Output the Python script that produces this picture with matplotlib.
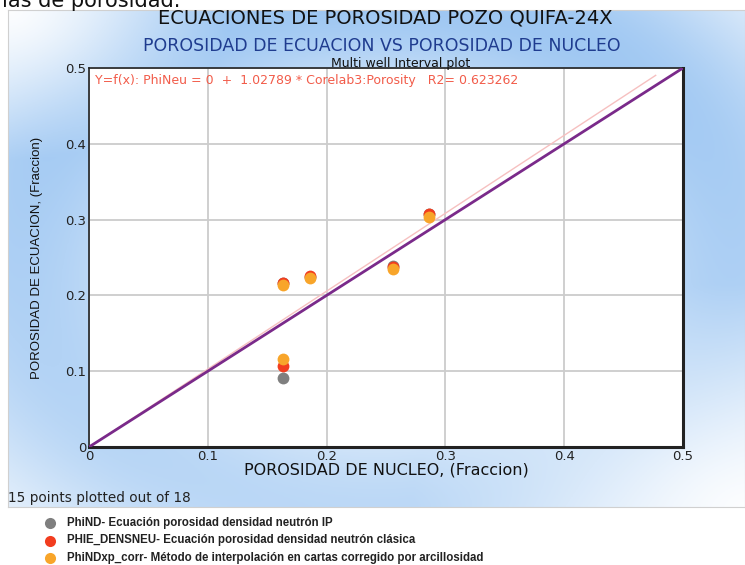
import matplotlib.pyplot as plt
import numpy as np

# core porosity (x) and equation porosity (y) per method
core_por = [0.163, 0.163, 0.186, 0.256, 0.286]
phind = [0.091, 0.216, 0.224, 0.239, 0.308]
phie_densneu = [0.107, 0.217, 0.225, 0.238, 0.307]
phindxp_corr = [0.116, 0.214, 0.223, 0.235, 0.303]

fit_slope = 1.02789
fit_x = [0.0, 0.477]
one_to_one = [0.0, 0.5]

labels = ['PhiND- Ecuación porosidad densidad neutrón IP',
          'PHIE_DENSNEU- Ecuación porosidad densidad neutrón clásica',
          'PhiNDxp_corr- Método de interpolación en cartas corregido por arcillosidad']
colors = ['#7f7f7f', '#f23d1f', '#f8a52a']

W, H = 745, 565
fig = plt.figure(figsize=(W / 100, H / 100), dpi=100)

# gradient panel behind the plot
bg = fig.add_axes([8 / W, 1 - 507 / H, (W - 8) / W, 497 / H])
ny, nx = 200, 300
yy, xx = np.mgrid[0:1:ny * 1j, 0:1:nx * 1j]
r = np.sqrt(((xx - 0.5) / 0.55) ** 2 + ((yy - 0.5) / 0.6) ** 2)
w = 1.0 * np.exp(-((r - 0.88) / 0.38) ** 2)
w *= 1 - 0.95 * np.clip(1 - np.hypot(xx, yy) / 0.3, 0, 1)
w *= 1 - 0.9 * np.clip(1 - np.hypot(1 - xx, 1 - yy) / 0.45, 0, 1)
w *= 1 - 0.3 * yy
w = np.clip(w, 0, 1)
blue = np.array([0.62, 0.78, 0.95])
img = (1 - w[..., None]) * np.ones(3) + w[..., None] * blue
bg.imshow(img, aspect='auto', extent=[0, 1, 0, 1], origin='upper')
bg.set_xticks([])
bg.set_yticks([])
for s in bg.spines.values():
    s.set_color('#d0d0d0')
    s.set_linewidth(0.8)

ax = fig.add_axes([89 / W, 1 - 447 / H, 594 / W, 379 / H])
ax.set_facecolor('white')
ax.set_xlim(0, 0.5)
ax.set_ylim(0, 0.5)
ticks = np.arange(0, 0.51, 0.1)
ax.set_xticks(ticks)
ax.set_yticks(ticks)
ax.set_xticklabels(['0', '0.1', '0.2', '0.3', '0.4', '0.5'])
ax.set_yticklabels(['0', '0.1', '0.2', '0.3', '0.4', '0.5'])
ax.tick_params(length=0, labelsize=9.5, labelcolor='#222222', pad=2)
ax.grid(True, color='#cccccc', linewidth=1.3)
ax.set_axisbelow(True)
for s in ax.spines.values():
    s.set_color('#222222')
    s.set_linewidth(1.2)
ax.spines['right'].set_linewidth(2.2)
ax.spines['bottom'].set_linewidth(2.2)

ax.plot(fit_x, [v * fit_slope for v in fit_x], color='#f6c0c0', linewidth=1, zorder=2)
ax.plot(one_to_one, one_to_one, color='#7a2a8a', linewidth=2, zorder=3)

for ys, c in zip([phind, phie_densneu, phindxp_corr], colors):
    ax.plot(core_por, ys, 'o', color=c, markersize=8.5, markeredgewidth=0, zorder=4)

ax.text(0.005, 0.483, 'Y=f(x): PhiNeu = 0  +  1.02789 * Corelab3:Porosity   R2= 0.623262',
        color='#f25c4a', fontsize=9, va='center', ha='left')

ax.set_xlabel('POROSIDAD DE NUCLEO, (Fraccion)', fontsize=11.5, color='#111111', labelpad=0)
ax.set_ylabel('POROSIDAD DE ECUACION, (Fraccion)', fontsize=9.5, color='#111111',
              family='Liberation Sans', labelpad=16)

fig.text(385 / W, 1 - 18 / H, 'ECUACIONES DE POROSIDAD POZO QUIFA-24X', fontsize=14,
         ha='center', va='center', color='#111111')
fig.text(382 / W, 1 - 46 / H, 'POROSIDAD DE ECUACION VS POROSIDAD DE NUCLEO', fontsize=12.5,
         ha='center', va='center', color='#1f3c8f')
fig.text(401 / W, 1 - 63 / H, 'Multi well Interval plot', fontsize=9,
         ha='center', va='center', color='#111111')
fig.text(2 / W, 1 - 1 / H, 'las de porosidad.', fontsize=15, ha='left', va='center',
         color='#111111')

fig.text(8 / W, 1 - 498 / H, '15 points plotted out of 18', fontsize=9.8, ha='left',
         va='center', color='#222222')

for i, (lab, c) in enumerate(zip(labels, colors)):
    yp = 1 - (523 + 17.5 * i) / H
    fig.text(67 / W, yp, lab, fontsize=8.3, ha='left', va='center', color='#222222',
             family='Liberation Sans', fontweight='bold')
    fig.add_artist(plt.Line2D([50 / W], [yp], marker='o', color=c, markersize=8,
                              markeredgewidth=0, transform=fig.transFigure))

fig.savefig('out.png', dpi=100)
